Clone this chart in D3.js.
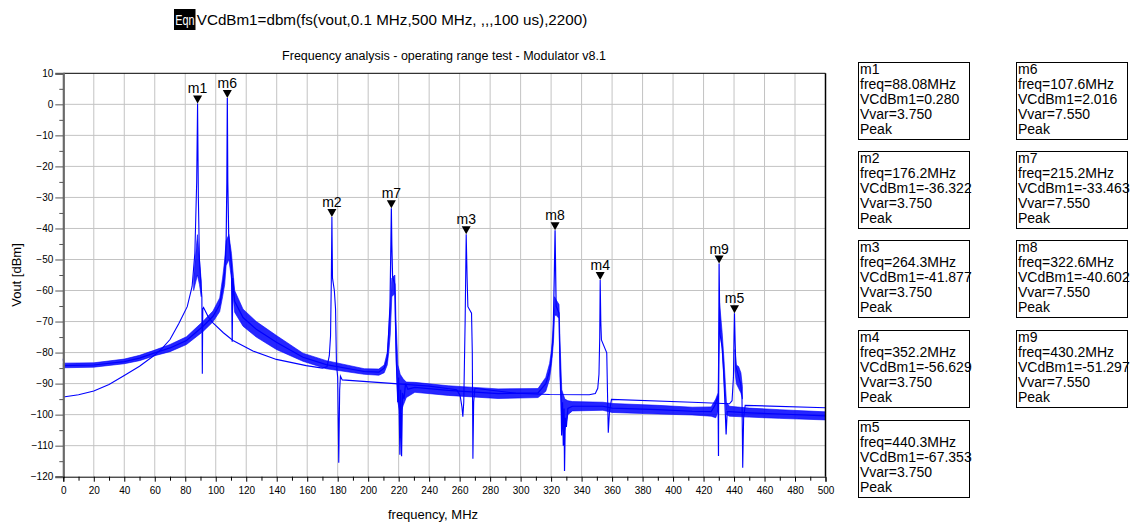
<!DOCTYPE html>
<html><head><meta charset="utf-8">
<script src="https://cdn.jsdelivr.net/npm/d3@7"></script>
<style>
body{margin:0;background:#fff;}
svg{display:block;font-family:"Liberation Sans",Arial,Helvetica,sans-serif;}
</style></head><body>
<svg id="chart" width="1137" height="525"></svg>
<script>
// ---------------- DATA ----------------
const eqnText = "VCdBm1=dbm(fs(vout,0.1 MHz,500 MHz, ,,,100 us),2200)";
const chartTitle = "Frequency analysis - operating range test - Modulator v8.1";
const xTitle = "frequency, MHz";
const yTitle = "Vout [dBm]";
const xTicks = [0,20,40,60,80,100,120,140,160,180,200,220,240,260,280,300,320,340,360,380,400,420,440,460,480,500];
const yTicks = [10,0,-10,-20,-30,-40,-50,-60,-70,-80,-90,-100,-110,-120];

// Trace Vvar=3.750 (freq MHz, dBm)
const freq375 = [0,10,20,30,40,50,60,65,70,75.8,81.3,84.5,86.3,87.5,88.08,88.6,89.3,90.3,90.9,91.2,91.5,92,95,98.2,105,111.3,124.4,139.8,159.4,170,173,174.5,175.3,175.8,176.2,176.6,177.8,178.6,179.2,180.0,180.7,181.3,181.8,183,217.5,240,258,260.3,261.5,262.1,262.7,263.6,264.3,264.9,265.4,267.8,268.3,268.7,269.2,270,297,319,345,349,350.6,351.4,351.9,352.2,352.6,353,356.5,357.5,358.3,359.6,412.5,437,438.7,439.6,440.0,440.3,440.7,441.2,444.3,445.2,445.7,446.3,447.3,500];
const dbm375 = [-94.3,-93.6,-92.4,-90.3,-87.4,-84.4,-80.8,-78.6,-75.8,-70.6,-65.2,-58.7,-48,-25,0.28,-30,-50,-58,-62,-86.8,-66,-65.5,-68.4,-70.4,-73.6,-76.1,-79.5,-82.2,-84.2,-85.0,-84.6,-81,-74.7,-57.6,-36.32,-56,-60,-66,-84,-88,-115.5,-92,-87.6,-88.8,-90.0,-90.8,-92.0,-93.8,-97.5,-100.7,-96,-70,-41.88,-56,-65.2,-67.3,-80,-114.2,-96,-91.5,-93.1,-93.5,-93.6,-93.2,-91.5,-87,-75,-56.63,-70,-75.9,-80.1,-105.8,-99,-95.1,-96.0,-96.5,-95.5,-88,-75,-67.35,-76,-84.4,-90,-94,-117.1,-101,-97,-97.8];
// noisy skirts of the Vvar=3.750 trace (null = gap)
const skirtFreq375 = [85.5,86.5,88,89.3,90.5,null,440.6,441.5,443,444.5,445.5];
const skirtLow375  = [-60,-58,-55,-58,-62,null,-86,-90,-91.5,-93,-95];
const skirtHigh375 = [-56,-50,-42,-50,-57,null,-79,-84,-84.5,-86.5,-91];

// Trace Vvar=7.550 (freq MHz, dBm) - centre of the noisy trace with its peaks and dips
const freq755 = [0,0.4,20,40,50,60,70,80.8,91.7,98.2,102.6,104.5,105.9,106.8,107.3,107.6,107.9,108.5,109.5,110.3,110.8,111.2,112.4,117.9,126.6,139.8,157.2,172.5,197.4,207,210.5,212.5,213.3,214.3,214.9,215.2,215.5,216,217.5,218.1,218.6,219.4,220.0,220.8,221.3,221.9,222.5,223.5,224.5,226,230.6,252.5,285.2,311.4,316.5,319,320.3,321.3,322.1,322.6,323.0,323.3,325.2,325.7,326.5,326.9,327.5,328.0,328.5,328.8,329.3,330,331,334,354,360,390,412.5,425,427.5,428.8,429.5,429.8,430.0,430.2,430.5,430.8,432.2,433.2,434.0,434.8,435.5,437,450,470,500];
const dbm755 = [-82.0,-84.2,-84.0,-82.9,-81.8,-80.1,-78.5,-76.1,-71.5,-68.3,-64.6,-59,-54,-45,-25,2.02,-25,-42,-48,-52,-76.5,-56,-63.5,-68.7,-72.5,-76.7,-81.5,-83.9,-86.1,-86.3,-85,-82,-75,-65,-45,-33.46,-45,-55.5,-58,-75,-84,-96,-88,-112.9,-92,-113.4,-93,-95,-90,-91.8,-91.2,-92.2,-93.2,-93.0,-90,-86,-81.5,-74.6,-55,-40.6,-55,-65,-67.3,-80,-95,-106.7,-96,-110,-98,-118.2,-101,-104,-98,-97.3,-97.3,-97.9,-98.4,-98.9,-99,-97,-95,-94,-113.3,-75,-51.3,-65,-74,-78,-86,-96,-106.4,-99,-99,-99.4,-99.8,-100.4];
// noise band of the Vvar=7.550 trace
const bandFreq755 = [0,20,40,50,60,70,80.8,91.7,98.2,102.6,104.5,105.9,106.8,108.6,110.3,112.4,117.9,126.6,139.8,157.2,172.5,197.4,207,210.5,212.5,213.5,214.5,215.5,217.5,218.3,219.5,221,223,225,230.6,252.5,285.2,311.4,316.5,319,320.3,321.5,322.3,323.3,325.2,325.8,327,329,331,334,354,360,390,412.5,425,428,429.5,430.5,432.2,433.5,435,437,450,470,500];
const bandLow755  = [-84.9,-84.7,-83.6,-82.6,-81.0,-79.7,-77.4,-73.2,-70.1,-66.8,-62,-58,-52,-50,-56,-67,-71.5,-75,-79,-82.8,-85.2,-87.0,-87.3,-86.5,-84,-80,-74,-62,-61,-82,-96,-100,-97,-94.5,-92.8,-93.8,-94.8,-94.5,-92.5,-88.5,-83.5,-77,-68,-68,-69,-88,-102,-105,-100,-98.8,-98.6,-99.3,-99.8,-100.1,-100.5,-101,-99,-72,-79,-90,-100,-100.5,-100.8,-101.2,-101.7];
const bandHigh755 = [-83.4,-83.3,-82.1,-80.9,-79.2,-77.4,-74.9,-69.9,-66.6,-62.4,-56,-50,-44,-42,-48,-60,-66,-70,-74.5,-80.2,-82.6,-85.2,-85.3,-84,-80,-73,-64,-56,-55,-70,-84,-87,-88.5,-89.5,-89.6,-90.7,-91.7,-91.6,-88,-83.5,-79,-71,-62,-63,-64.5,-76,-92,-95,-95.5,-95.8,-96.0,-96.4,-97.0,-97.6,-97.5,-95,-93,-64,-73.5,-83,-96,-97.3,-97.9,-98.4,-99.1];

// Markers
const markerNames  = ["m1","m2","m3","m4","m5","m6","m7","m8","m9"];
const markerFreqs  = [88.08,176.2,264.3,352.2,440.3,107.6,215.2,322.6,430.2];
const markerValues = [0.280,-36.322,-41.877,-56.629,-67.353,2.016,-33.463,-40.602,-51.297];
const markerVvar   = [3.750,3.750,3.750,3.750,3.750,7.550,7.550,7.550,7.550];

// ---------------- DRAWING ----------------
const svg = d3.select("#chart");
const pL = 63.3, pR = 825.5, pT = 73.3, pB = 476.7;
const x = d3.scaleLinear().domain([0,500]).range([pL,pR]);
const y = d3.scaleLinear().domain([-120,10]).range([pB,pT]);
const blue = "#0000ff";

// Equation header
svg.append("rect").attr("x",174).attr("y",9).attr("width",21.5).attr("height",21).attr("fill","#000");
svg.append("text").attr("transform","translate(175.3,25) scale(0.72,1)").attr("fill","#fff")
  .style("font-size","15px").text("Eqn");
svg.append("text").attr("x",196.8).attr("y",25).attr("fill","#000").style("font-size","15.2px").text(eqnText);

// Title
svg.append("text").attr("x",444).attr("y",60).attr("text-anchor","middle").style("font-size","12.5px").text(chartTitle);

// Grid
const grid = svg.append("g").attr("stroke","#c3c3c3").attr("stroke-width",1);
grid.selectAll("line.v").data(xTicks.filter(t=>t>0 && t<500)).join("line").attr("class","v")
  .attr("x1",d=>x(d)).attr("x2",d=>x(d)).attr("y1",pT).attr("y2",pB);
grid.selectAll("line.h").data(yTicks.filter(t=>t>-120 && t<10)).join("line").attr("class","h")
  .attr("y1",d=>y(d)).attr("y2",d=>y(d)).attr("x1",pL).attr("x2",pR);

// Traces
const plot = svg.append("g");
const area = d3.area().defined(d=>d[0]!==null).x(d=>x(d[0])).y0(d=>y(d[1])).y1(d=>y(d[2]));
const line = d3.line().x(d=>x(d[0])).y(d=>y(d[1]));

plot.append("path").datum(d3.zip(bandFreq755,bandLow755,bandHigh755))
  .attr("d",area).attr("fill",blue).attr("fill-opacity",0.85).attr("stroke",blue).attr("stroke-width",0.6);
plot.append("path").datum(d3.zip(skirtFreq375,skirtLow375,skirtHigh375))
  .attr("d",area).attr("fill",blue).attr("fill-opacity",0.85).attr("stroke",blue).attr("stroke-width",0.6);
plot.append("path").datum(d3.zip(freq755,dbm755))
  .attr("d",line).attr("fill","none").attr("stroke",blue).attr("stroke-width",1.2);
plot.append("path").datum(d3.zip(freq375,dbm375))
  .attr("d",line).attr("fill","none").attr("stroke",blue).attr("stroke-width",1.1);

// Borders
svg.append("line").attr("x1",pL).attr("x2",pR).attr("y1",pT).attr("y2",pT).attr("stroke","#000");
svg.append("line").attr("x1",pR).attr("x2",pR).attr("y1",pT).attr("y2",pB).attr("stroke","#000").attr("stroke-width",1.5);

// Y axis
const yAx = svg.append("g").attr("transform",`translate(${pL},0)`)
  .call(d3.axisLeft(y).tickValues(yTicks).tickSize(8).tickPadding(2).tickFormat(d3.format("d")));
yAx.select(".domain").attr("stroke","#6a6a6a").attr("stroke-width",2.2);
yAx.selectAll(".tick line").attr("stroke","#555");
yAx.selectAll("text").style("font-size","10px").attr("fill","#000");
const yMinor = yTicks.slice(0,-1).map(t=>t-5);
svg.append("g").attr("transform",`translate(${pL},0)`)
  .call(d3.axisLeft(y).tickValues(yMinor).tickSize(4).tickFormat(""))
  .call(g=>g.select(".domain").remove())
  .selectAll(".tick line").attr("stroke","#555");

// X axis
const xAx = svg.append("g").attr("transform",`translate(0,${pB})`)
  .call(d3.axisBottom(x).tickValues(xTicks).tickSize(5).tickPadding(5).tickFormat(d3.format("d")));
xAx.select(".domain").attr("stroke","#000");
xAx.selectAll("text").style("font-size","10px").attr("fill","#000");
const xMinor = xTicks.slice(0,-1).map(t=>t+10);
svg.append("g").attr("transform",`translate(0,${pB})`)
  .call(d3.axisBottom(x).tickValues(xMinor).tickSize(4).tickFormat(""))
  .call(g=>g.select(".domain").remove());

// Axis titles
svg.append("text").attr("transform",`translate(21,275) rotate(-90)`).attr("text-anchor","middle")
  .style("font-size","13px").text(yTitle);
svg.append("text").attr("x",433).attr("y",519).attr("text-anchor","middle").style("font-size","13px").text(xTitle);

// Markers on the plot
const markers = markerNames.map((n,i)=>({name:n,f:markerFreqs[i],v:markerValues[i],vv:markerVvar[i]}));
const mg = svg.append("g").selectAll("g").data(markers).join("g")
  .attr("transform",d=>`translate(${x(d.f)},${y(d.v)})`);
mg.append("path").attr("d","M0,0 L-4.5,-8 L4.5,-8 Z").attr("fill","#000");
mg.append("text").attr("y",-10).attr("text-anchor","middle").style("font-size","14px").text(d=>d.name);

// Marker readout boxes
const boxTops = [62,151,240,330,420];
const colX = [858,1016];
const fmtF = d3.format(".4r");
const boxes = svg.append("g").selectAll("g").data(markers).join("g")
  .attr("transform",(d,i)=>{const c=i<5?0:1; const r=i<5?i:i-5; return `translate(${colX[c]},${boxTops[r]})`;});
boxes.append("rect").attr("x",0.5).attr("y",0.5).attr("width",111).attr("height",77)
  .attr("fill","#fff").attr("stroke","#000").attr("stroke-width",1);
boxes.each(function(d){
  const g = d3.select(this);
  const lines = [d.name, `freq=${fmtF(d.f)}MHz`, `VCdBm1=${d.v.toFixed(3)}`, `Vvar=${d.vv.toFixed(3)}`, "Peak"];
  lines.forEach((t,k)=>g.append("text").attr("x",2).attr("y",12+15*k).style("font-size","14px").text(t));
});
</script>
</body></html>
